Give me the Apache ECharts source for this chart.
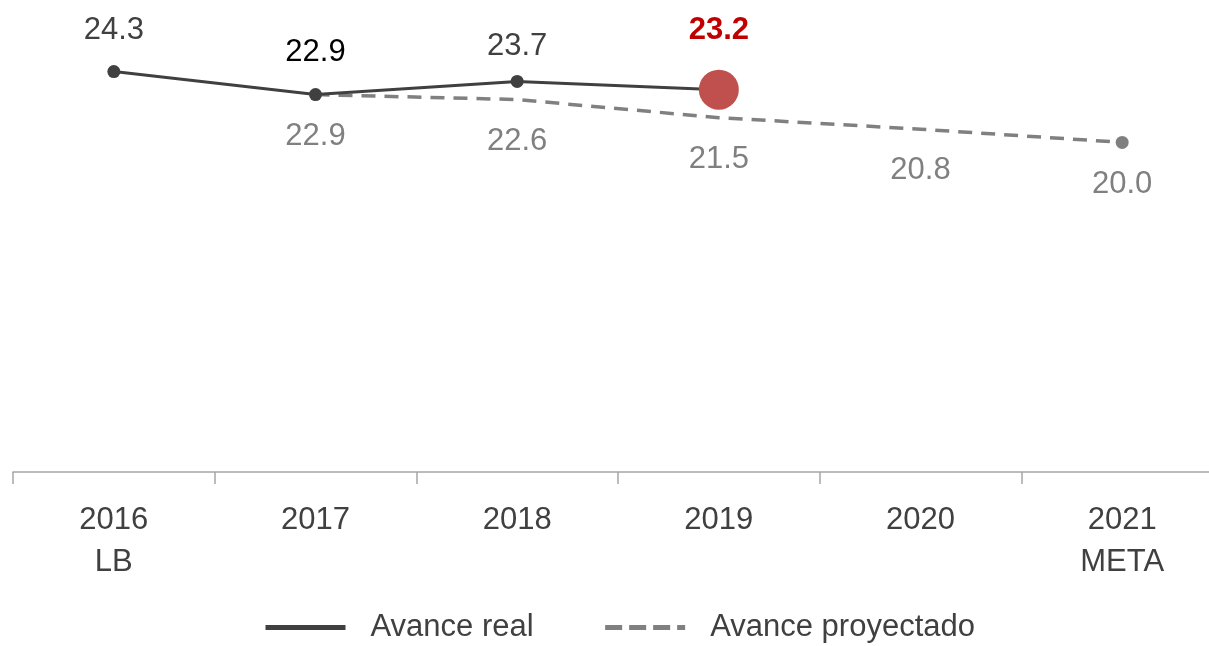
<!DOCTYPE html>
<html>
<head>
<meta charset="utf-8">
<script src="https://cdn.jsdelivr.net/npm/echarts@6/dist/echarts.min.js"></script>
<style>
  html, body { margin: 0; padding: 0; background: #fff; }
  #chart { width: 1209px; height: 646px; }
</style>
</head>
<body>
<div id="chart"></div>
<script>
// categorías del eje x
var years = ['2016\nLB', '2017', '2018', '2019', '2020', '2021\nMETA']
// avance real
var real = [24.3, 22.9, 23.7, 23.2, null, null]
// avance proyectado
var projected = [null, 22.9, 22.6, 21.5, 20.8, 20.0]

var FONT = "'Liberation Sans Narrow', 'Arial Narrow', 'Liberation Sans', Arial, sans-serif"
var FS = 31

var myChart = echarts.init(document.getElementById('chart'))

var realData = real.map(function (v, i) {
  if (v == null) return '-'
  var item = { value: v }
  if (i === 1) {
    item.label = { color: '#000', distance: 20 }
  }
  if (i === 2) {
    item.label = { distance: 13 }
  }
  if (i === 3) {
    // último dato real resaltado
    item.symbolSize = 40
    item.itemStyle = { color: '#C0504D' }
    item.label = { color: '#C00000', fontWeight: 'bold', distance: 24 }
  }
  return item
})

var projData = projected.map(function (v, i) {
  if (v == null) return '-'
  var item = { value: v }
  if (i < projected.length - 1) {
    item.symbolSize = 0
    item.label = { distance: 26 }
  }
  return item
})

var option = {
  animation: false,
  textStyle: { fontFamily: FONT },
  grid: {
    top: 60,
    left: 13,
    width: 1210,
    bottom: 174,
    containLabel: false,
    outerBoundsMode: 'none'
  },
  legend: {
    left: 258,
    top: 607,
    itemWidth: 80,
    itemHeight: 5,
    itemGap: 69,
    itemStyle: { opacity: 0 },
    textStyle: {
      fontFamily: FONT,
      fontSize: FS,
      color: '#404040',
      padding: [0, 0, 0, 20]
    },
    data: [
      { name: 'Avance real', lineStyle: { width: 5, type: 'solid' } },
      { name: 'Avance proyectado', lineStyle: { width: 5, type: [17, 7] } }
    ]
  },
  xAxis: {
    type: 'category',
    data: years,
    boundaryGap: true,
    axisLine: {
      lineStyle: { color: '#a6a6a6', width: 1.5 }
    },
    axisTick: {
      show: true,
      length: 12,
      lineStyle: { color: '#a6a6a6', width: 1.5 }
    },
    axisLabel: {
      interval: 0,
      margin: 27,
      fontFamily: FONT,
      fontSize: FS,
      lineHeight: 42,
      color: '#404040'
    }
  },
  yAxis: {
    type: 'value',
    min: 0,
    max: 25,
    show: false,
    splitLine: { show: false }
  },
  series: [
    {
      name: 'Avance proyectado',
      type: 'line',
      z: 2,
      data: projData,
      symbol: 'circle',
      symbolSize: 13,
      itemStyle: { color: '#808080' },
      lineStyle: { color: '#808080', width: 3.5, type: [14, 9] },
      label: {
        show: true,
        position: 'bottom',
        distance: 20,
        fontFamily: FONT,
        fontSize: FS,
        color: '#808080',
        formatter: function (p) { return p.value.toFixed(1) }
      }
    },
    {
      name: 'Avance real',
      type: 'line',
      z: 3,
      data: realData,
      symbol: 'circle',
      symbolSize: 13,
      itemStyle: { color: '#404040' },
      lineStyle: { color: '#404040', width: 3 },
      label: {
        show: true,
        position: 'top',
        distance: 19,
        fontFamily: FONT,
        fontSize: FS,
        color: '#404040',
        formatter: function (p) { return p.value.toFixed(1) }
      }
    }
  ]
}

option && myChart.setOption(option)
</script>
</body>
</html>
